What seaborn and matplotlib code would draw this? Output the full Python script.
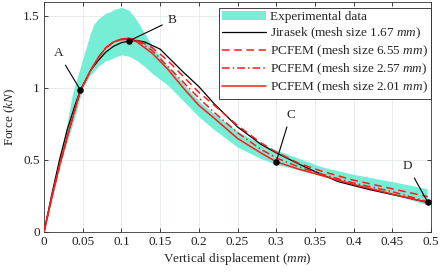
import matplotlib
matplotlib.use("Agg")
import matplotlib.pyplot as plt
import seaborn as sns
import pandas as pd
from matplotlib.patches import Patch
from matplotlib.lines import Line2D

# ---------------- data ----------------
band_x = [0, 0.01, 0.02, 0.03, 0.036, 0.04, 0.05, 0.06, 0.064, 0.07, 0.08, 0.086, 0.09, 0.10,
          0.11, 0.12, 0.13, 0.14, 0.15, 0.16, 0.18, 0.20, 0.22, 0.25, 0.28, 0.30, 0.33,
          0.36, 0.40, 0.45, 0.495]
band_hi = [0, 0.25, 0.50, 0.76, 0.94, 1.02, 1.20, 1.38, 1.44, 1.48, 1.52, 1.53, 1.545, 1.56,
           1.54, 1.47, 1.38, 1.29, 1.22, 1.15, 1.03, 0.91, 0.82, 0.70, 0.61, 0.57, 0.51,
           0.45, 0.40, 0.35, 0.30]
band_lo = [0, 0.22, 0.44, 0.63, 0.73, 0.80, 1.00, 1.09, 1.11, 1.15, 1.19, 1.20, 1.21, 1.23,
           1.22, 1.19, 1.15, 1.10, 1.06, 1.02, 0.91, 0.80, 0.71, 0.59, 0.51, 0.47, 0.43,
           0.39, 0.33, 0.26, 0.19]

jir_x = [0, 0.01, 0.02, 0.03, 0.04, 0.047, 0.06, 0.07, 0.08, 0.09, 0.10, 0.11, 0.12, 0.13,
         0.15, 0.18, 0.20, 0.22, 0.25, 0.28, 0.30, 0.33, 0.35, 0.38, 0.42, 0.45, 0.48, 0.496]
jir_y = [0, 0.26, 0.50, 0.71, 0.88, 0.986, 1.12, 1.19, 1.25, 1.29, 1.315, 1.326, 1.33, 1.32,
         1.27, 1.11, 1.01, 0.89, 0.73, 0.61, 0.55, 0.47, 0.42, 0.35, 0.295, 0.26, 0.225, 0.205]

p655_x = [0, 0.01, 0.02, 0.03, 0.04, 0.047, 0.06, 0.07, 0.08, 0.09, 0.10, 0.11, 0.12, 0.14,
          0.16, 0.18, 0.20, 0.22, 0.25, 0.28, 0.30, 0.33, 0.36, 0.40, 0.45, 0.496]
p655_y = [0, 0.24, 0.46, 0.66, 0.85, 0.98, 1.12, 1.21, 1.28, 1.32, 1.34, 1.345, 1.335, 1.28,
          1.19, 1.08, 0.97, 0.88, 0.74, 0.62, 0.555, 0.475, 0.42, 0.36, 0.30, 0.245]

p257_x = [0, 0.01, 0.02, 0.03, 0.04, 0.047, 0.06, 0.07, 0.08, 0.09, 0.10, 0.11, 0.12, 0.14,
          0.16, 0.18, 0.20, 0.22, 0.25, 0.28, 0.30, 0.33, 0.36, 0.40, 0.45, 0.496]
p257_y = [0, 0.24, 0.46, 0.66, 0.85, 0.98, 1.12, 1.21, 1.28, 1.32, 1.34, 1.345, 1.33, 1.26,
          1.15, 1.04, 0.93, 0.83, 0.69, 0.575, 0.515, 0.45, 0.40, 0.34, 0.28, 0.21]

p201_x = [0, 0.01, 0.02, 0.03, 0.04, 0.047, 0.06, 0.07, 0.08, 0.09, 0.10, 0.11, 0.12, 0.14,
          0.16, 0.18, 0.20, 0.22, 0.25, 0.28, 0.30, 0.33, 0.36, 0.40, 0.43, 0.46, 0.496]
p201_y = [0, 0.24, 0.46, 0.66, 0.85, 0.98, 1.12, 1.21, 1.28, 1.32, 1.335, 1.34, 1.32, 1.24,
          1.13, 1.00, 0.88, 0.79, 0.65, 0.55, 0.488, 0.435, 0.39, 0.33, 0.29, 0.25, 0.205]

pt_labels = ["A", "B", "C", "D"]
pt_x = [0.047, 0.1095, 0.30, 0.496]
pt_y = [0.986, 1.326, 0.488, 0.205]
lab_x = [0.0186, 0.166, 0.3186, 0.470]
lab_y = [1.24, 1.472, 0.8125, 0.456]

x_ticks = [0, 0.05, 0.1, 0.15, 0.2, 0.25, 0.3, 0.35, 0.4, 0.45, 0.5]
x_ticklabels = ["0", "0.05", "0.1", "0.15", "0.2", "0.25", "0.3", "0.35", "0.4", "0.45", "0.5"]
y_ticks = [0, 0.5, 1, 1.5]
y_ticklabels = ["0", "0.5", "1", "1.5"]

legend_labels = ["Experimental data",
                 r"Jirasek (mesh size 1.67 $mm$)",
                 r"PCFEM (mesh size 6.55 $mm$)",
                 r"PCFEM (mesh size 2.57 $mm$)",
                 r"PCFEM (mesh size 2.01 $mm$)"]

# ---------------- style ----------------
sns.set_theme(style="ticks")
plt.rcParams["font.family"] = ["Liberation Serif", "DejaVu Serif"]
plt.rcParams["mathtext.fontset"] = "custom"
plt.rcParams["mathtext.it"] = "Liberation Serif:italic"
plt.rcParams["mathtext.rm"] = "Liberation Serif"
FS = 9.5

fig = plt.figure(figsize=(4.42, 2.76), dpi=100)
ax = fig.add_axes([44 / 442, 44 / 276, (431 - 44) / 442, (232 - 1.6) / 276])

band_color = "#76EED6"
ax.fill_between(band_x, band_lo, band_hi, color=band_color, lw=0, zorder=1)

def line(xs, ys, **kw):
    df = pd.DataFrame({"x": xs, "y": ys})
    sns.lineplot(data=df, x="x", y="y", ax=ax, sort=False, estimator=None, legend=False, **kw)

line(jir_x, jir_y, color="black", lw=0.9, zorder=3)
line(p655_x, p655_y, color="#FF1A1A", lw=1.1, zorder=4, dashes=(5, 3))
line(p257_x, p257_y, color="#FF1A1A", lw=1.1, zorder=4, dashes=(5, 2, 1, 2))
line(p201_x, p201_y, color="#FF1A1A", lw=1.1, zorder=4)

pts = pd.DataFrame({"x": pt_x, "y": pt_y})
sns.scatterplot(data=pts, x="x", y="y", ax=ax, color="black", s=22, zorder=6, edgecolor="black", linewidth=0)

for lab, px, py, tx, ty in zip(pt_labels, pt_x, pt_y, lab_x, lab_y):
    ax.annotate(lab, xy=(px, py), xytext=(tx, ty), fontsize=FS, ha="center", va="center",
                arrowprops=dict(arrowstyle="-", color="black", lw=0.8, shrinkA=2, shrinkB=0),
                zorder=7)

ax.set_xlim(0, 0.5)
ax.set_ylim(0, 1.6)
ax.set_xticks(x_ticks)
ax.set_xticklabels(x_ticklabels, fontsize=FS)
ax.set_yticks(y_ticks)
ax.set_yticklabels(y_ticklabels, fontsize=FS)
ax.tick_params(direction="in", length=3, width=0.6, top=True, right=True, colors="#222222", pad=3)
ax.grid(True, color="#e3e9e9", lw=0.6, zorder=0)
ax.set_axisbelow(True)
for s in ax.spines.values():
    s.set_linewidth(0.6)
    s.set_color("#333333")

ax.set_xlabel(r"Vertical displacement ($mm$)", fontsize=FS, labelpad=2)
ax.set_ylabel(r"Force ($kN$)", fontsize=FS, labelpad=4)

handles = [Patch(facecolor=band_color, edgecolor="none"),
           Line2D([], [], color="black", lw=0.9),
           Line2D([], [], color="#FF1A1A", lw=1.1, dashes=(5, 3)),
           Line2D([], [], color="#FF1A1A", lw=1.1, dashes=(5, 2, 1, 2)),
           Line2D([], [], color="#FF1A1A", lw=1.1)]
leg = ax.legend(handles, legend_labels, loc="upper right", bbox_to_anchor=(1.0, 0.974),
                fontsize=FS, frameon=True, fancybox=False, edgecolor="#222222",
                framealpha=1, borderaxespad=0, handlelength=3.3, handletextpad=0.3,
                labelspacing=0.2, borderpad=0.25)
leg.get_frame().set_linewidth(0.6)
leg.set_zorder(10)

fig.savefig("out.png", dpi=100)
